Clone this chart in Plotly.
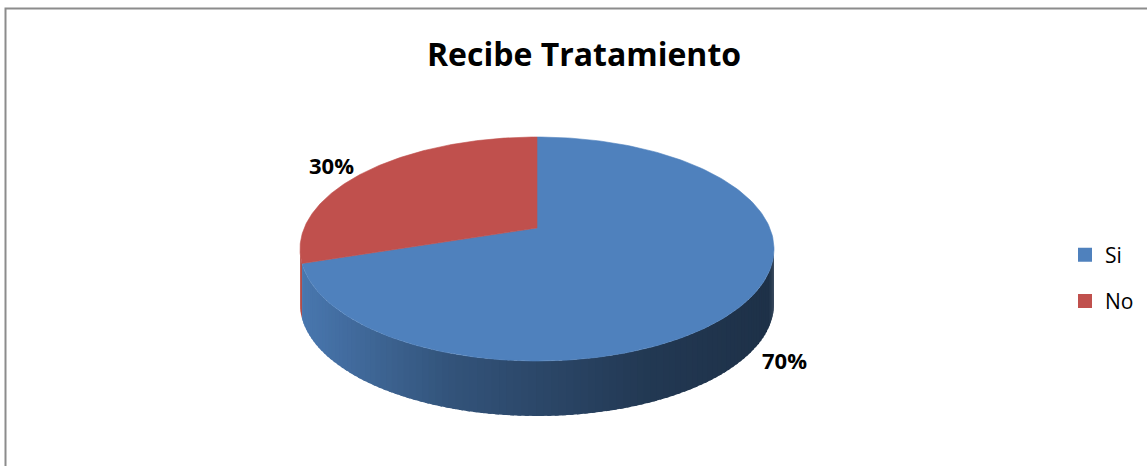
import numpy as np
import plotly.graph_objects as go

# ---- data ----
labels = ["Si", "No"]
values = [70, 30]
colors = ["#4F81BD", "#C0504D"]
title_text = "Recibe Tratamiento"

# ---- geometry of the 3D pie (pixel-like units) ----
W, H = 1147, 466
CX, CY = 537.0, 228.0     # apex of slices
K, M, E = 232.8, 108.06, 0.1875   # perspective projection params
DEPTH = 55.0


def proj(a_deg, r=1.0):
    a = np.radians(a_deg)
    u = r * np.sin(a)
    v = r * np.cos(a)
    d = 1 + E * v
    return CX + K * u / d, CY - M * v / d


def hex_rgb(h):
    h = h.lstrip("#")
    return tuple(int(h[i:i + 2], 16) for i in (0, 2, 4))


def shade(hexcol, f):
    r, g, b = hex_rgb(hexcol)
    return "rgb(%d,%d,%d)" % (min(255, r * f), min(255, g * f), min(255, b * f))


# shading of side wall as function of horizontal position
t_stops = [0.0, 0.2, 0.316, 0.738, 1.0]
f_stops = [0.93, 0.75, 0.65, 0.44, 0.38]
XL, XR = CX - K * 1.018, CX + K * 1.018

total = float(sum(values))
starts = []
acc = 0.0
for v in values:
    starts.append(acc / total * 360.0)
    acc += v
ends = [s + v / total * 360.0 for s, v in zip(starts, values)]

a_vis0 = np.degrees(np.arccos(-E))
a_vis1 = 360.0 - a_vis0

fig = go.Figure()

# side walls (strips overlap slightly to avoid seams)
for s, e, col in zip(starts, ends, colors):
    lo, hi = max(s, a_vis0), min(e, a_vis1)
    if hi <= lo:
        continue
    n = max(1, int(np.ceil((hi - lo) / 1.5)))
    edges = np.linspace(lo, hi, n + 1)
    for a0, a1 in zip(edges[:-1], edges[1:]):
        a1x = min(hi, a1 + 0.8)
        aa = np.linspace(a0, a1x, 5)
        xs, ys = proj(aa)
        xm, _ = proj((a0 + a1) / 2)
        t = (xm - XL) / (XR - XL)
        f = float(np.interp(t, t_stops, f_stops))
        c = shade(col, f)
        px = np.concatenate([xs, xs[::-1]])
        py = np.concatenate([ys, ys[::-1] + DEPTH])
        fig.add_trace(go.Scatter(x=px, y=py, mode="lines", fill="toself",
                                 fillcolor=c, line=dict(width=0),
                                 hoverinfo="skip", showlegend=False))

# top faces
for s, e, col, lab, v in zip(starts, ends, colors, labels, values):
    aa = np.linspace(s, e, 200)
    xs, ys = proj(aa)
    px = np.concatenate([[CX], xs, [CX]])
    py = np.concatenate([[CY], ys, [CY]])
    fig.add_trace(go.Scatter(x=px, y=py, mode="lines", fill="toself",
                             fillcolor=col, line=dict(color=col, width=0.6),
                             hoverinfo="text", text="%s: %d%%" % (lab, v),
                             showlegend=False))

# percentage labels (outside the rim at mid-angle)
for s, e, v in zip(starts, ends, values):
    mid = (s + e) / 2
    rx, ry = proj(mid)
    su = np.sign(np.sin(np.radians(mid)))
    sv = np.sign(np.cos(np.radians(mid)))
    lx = rx + 36 * su
    ly = ry - 6 * sv + (DEPTH if sv < 0 else 0)
    fig.add_annotation(x=lx, y=ly, text="<b>%d%%</b>" % round(v / total * 100),
                       showarrow=False, font=dict(family="Open Sans", size=22, color="black"),
                       xanchor="center", yanchor="middle")

# legend entries
for lab, col in zip(labels, colors):
    fig.add_trace(go.Scatter(x=[None], y=[None], mode="markers", name=lab,
                             legendgroup=lab,
                             marker=dict(symbol="square", size=14, color=col)))

# chart border
fig.add_shape(type="rect", x0=5.5, y0=8.5, x1=W + 20, y1=H + 20,
              line=dict(color="#8C8C8C", width=2), fillcolor="rgba(0,0,0,0)")

fig.update_layout(
    width=W, height=H,
    margin=dict(l=0, r=0, t=0, b=0),
    paper_bgcolor="white", plot_bgcolor="white",
    title=dict(text="<b>%s</b>" % title_text, x=584 / W, y=1 - 55 / H,
               xanchor="center", yanchor="middle", xref="paper", yref="paper",
               font=dict(family="Open Sans", size=32, color="black")),
    xaxis=dict(range=[0, W], visible=False, fixedrange=True),
    yaxis=dict(range=[H, 0], visible=False, fixedrange=True),
    legend=dict(x=1065 / W, y=1 - 278 / H, xanchor="left", yanchor="middle",
                font=dict(family="Open Sans", size=21, color="black"),
                tracegroupgap=16, itemwidth=30, bgcolor="rgba(0,0,0,0)"),
    showlegend=True,
)

fig.write_html("out.html")
